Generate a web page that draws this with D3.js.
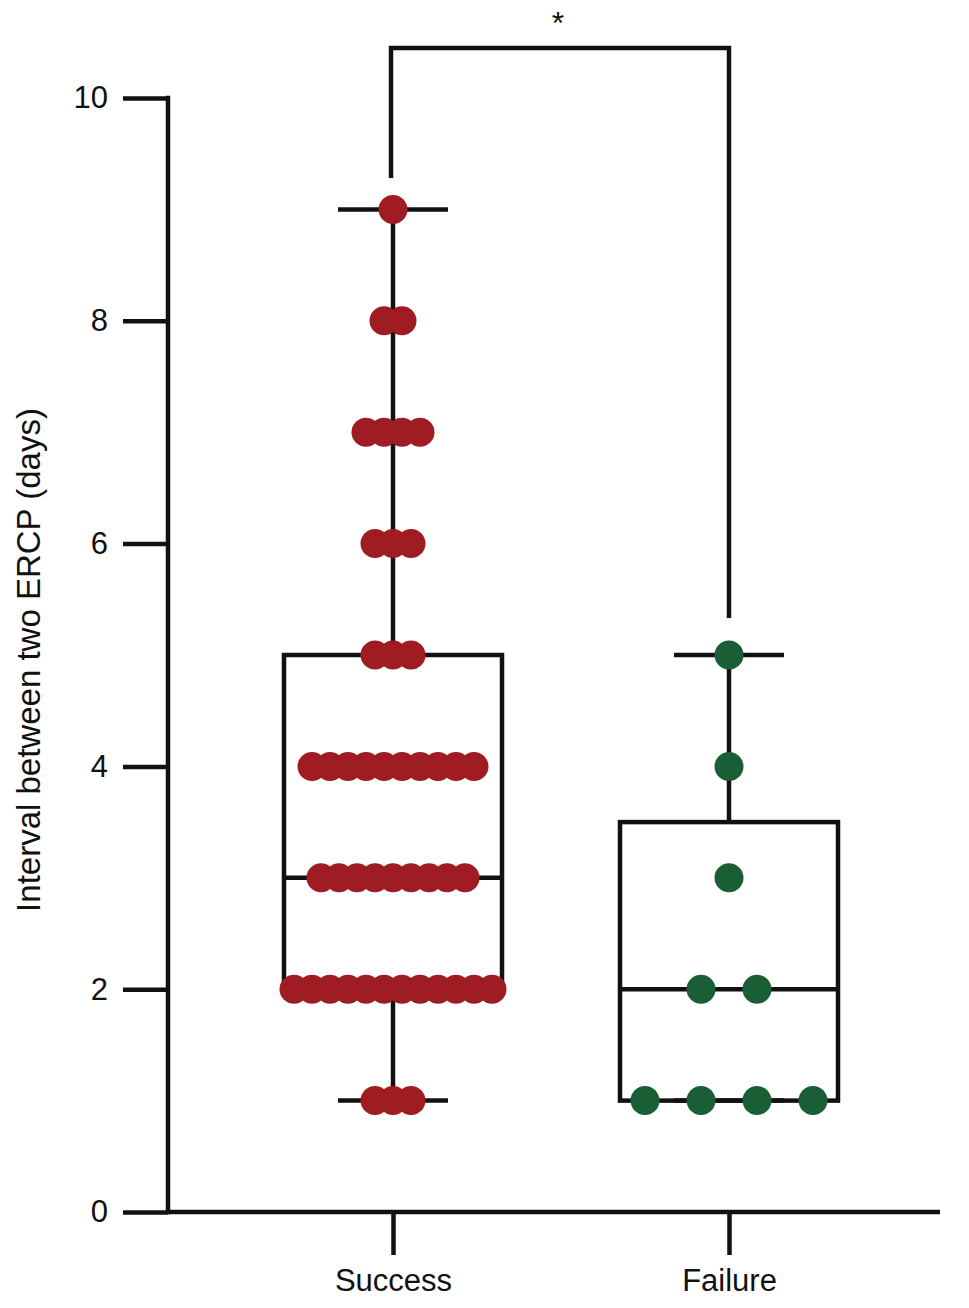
<!DOCTYPE html>
<html>
<head>
<meta charset="utf-8">
<script src="https://cdn.jsdelivr.net/npm/d3@7"></script>
<style>
	body { margin: 0; background: #fff; }
	svg { display: block; }
	text { font-family: "Liberation Sans", Arial, Helvetica, sans-serif; fill: #111; }
</style>
</head>
<body>
<svg id="chart" width="969" height="1308"></svg>
<script>
// data
const groups = ["Success", "Failure"];
const successValues = [1, 2, 3, 4, 5, 6, 7, 8, 9];
const successCounts = [3, 12, 9, 10, 3, 3, 4, 2, 1];
const failureValues = [1, 2, 3, 4, 5];
const failureCounts = [4, 2, 1, 1, 1];
const yTicks = [0, 2, 4, 6, 8, 10];
const yLabel = "Interval between two ERCP (days)";
const sigLabel = "*";

const colors = {Success: "#9e1c22", Failure: "#1a5e36"};
const dotSpacing = {Success: 18, Failure: 56};
const lw = 4.5;

const svg = d3.select("#chart");

let y = d3.scaleLinear().domain([0, 10]).range([1212, 98]);
let x = d3.scalePoint().domain(groups).range([393, 729]);

// quartiles the way Prism does them: position (n+1)p
function quart(sorted, p) {
	const pos = (sorted.length + 1) * p;
	const lo = Math.floor(pos), hi = Math.ceil(pos);
	const a = sorted[Math.max(lo, 1) - 1], b = sorted[Math.min(hi, sorted.length) - 1];
	return a + (b - a) * (pos - lo);
}

function expand(values, counts) {
	let out = [];
	values.forEach((v, i) => { for (let k = 0; k < counts[i]; k++) out.push(v); });
	return out;
}

const groupData = [
	{name: "Success", values: successValues, counts: successCounts},
	{name: "Failure", values: failureValues, counts: failureCounts}
];

// axes
svg.append("line")
	.attr("x1", 168).attr("x2", 940)
	.attr("y1", y(0)).attr("y2", y(0))
	.attr("stroke", "#111").attr("stroke-width", lw);
svg.append("line")
	.attr("x1", 168).attr("x2", 168)
	.attr("y1", y(0) + lw / 2).attr("y2", y(10) - lw / 2)
	.attr("stroke", "#111").attr("stroke-width", lw);

let yAxis = svg.append("g")
	.attr("transform", "translate(168,0)")
	.call(d3.axisLeft(y).tickValues(yTicks).tickSize(45).tickPadding(15));
yAxis.select(".domain").remove();
yAxis.selectAll(".tick line").attr("stroke", "#111").attr("stroke-width", lw);
yAxis.selectAll(".tick text").attr("font-size", 31).attr("fill", "#111")
	.style("font-family", "'Liberation Sans', Arial, sans-serif");

let xAxis = svg.append("g")
	.attr("transform", "translate(0," + y(0) + ")")
	.call(d3.axisBottom(x).tickSize(43).tickPadding(14));
xAxis.select(".domain").remove();
xAxis.selectAll(".tick line").attr("stroke", "#111").attr("stroke-width", lw);
xAxis.selectAll(".tick text").attr("font-size", 31).attr("fill", "#111")
	.style("font-family", "'Liberation Sans', Arial, sans-serif");

svg.append("text")
	.attr("transform", "translate(40,660) rotate(-90)")
	.attr("text-anchor", "middle")
	.attr("font-size", 33)
	.text(yLabel);

// box and whiskers
const boxHalf = 109, capHalf = 55;
groupData.forEach(g => {
	const all = expand(g.values, g.counts).sort(d3.ascending);
	const q1 = quart(all, 0.25), med = quart(all, 0.5), q3 = quart(all, 0.75);
	const lo = d3.min(all), hi = d3.max(all);
	const cx = x(g.name);
	const grp = svg.append("g").attr("stroke", "#111").attr("stroke-width", lw).attr("fill", "none");
	grp.append("rect")
		.attr("x", cx - boxHalf).attr("width", boxHalf * 2)
		.attr("y", y(q3)).attr("height", y(q1) - y(q3));
	grp.append("line").attr("x1", cx - boxHalf).attr("x2", cx + boxHalf).attr("y1", y(med)).attr("y2", y(med));
	grp.append("line").attr("x1", cx).attr("x2", cx).attr("y1", y(q3)).attr("y2", y(hi));
	grp.append("line").attr("x1", cx).attr("x2", cx).attr("y1", y(q1)).attr("y2", y(lo));
	grp.append("line").attr("x1", cx - capHalf).attr("x2", cx + capHalf).attr("y1", y(hi)).attr("y2", y(hi));
	grp.append("line").attr("x1", cx - capHalf).attr("x2", cx + capHalf).attr("y1", y(lo)).attr("y2", y(lo));
});

// dots, spread out side by side per value
groupData.forEach(g => {
	let pts = [];
	g.values.forEach((v, i) => {
		const n = g.counts[i];
		for (let k = 0; k < n; k++) pts.push({v: v, off: (k - (n - 1) / 2) * dotSpacing[g.name]});
	});
	svg.append("g").selectAll("circle")
		.data(pts)
		.join("circle")
		.attr("cx", d => x(g.name) + d.off)
		.attr("cy", d => y(d.v))
		.attr("r", 14.5)
		.attr("fill", colors[g.name]);
});

// significance bracket
svg.append("path")
	.attr("d", d3.line()([[x("Success") - 2, 178], [x("Success") - 2, 48], [x("Failure"), 48], [x("Failure"), 618]]))
	.attr("fill", "none").attr("stroke", "#111").attr("stroke-width", lw);
svg.append("text")
	.attr("x", (x("Success") + x("Failure")) / 2 - 3).attr("y", 34)
	.attr("text-anchor", "middle")
	.attr("font-size", 32)
	.text(sigLabel);
</script>
</body>
</html>
